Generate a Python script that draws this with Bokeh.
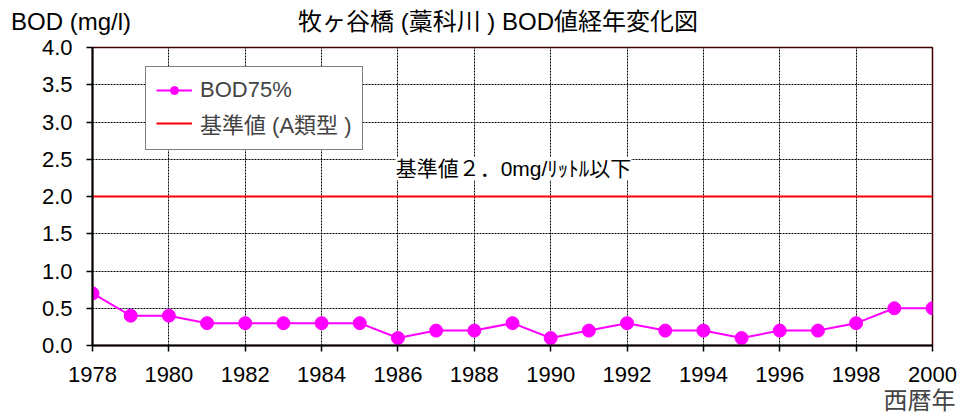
from bokeh.plotting import figure
from bokeh.models import (FixedTicker, NumeralTickFormatter, Label, Legend, LegendItem,
                          Range1d, Title, Div)
from bokeh.layouts import column
from bokeh.embed import file_html
from bokeh.resources import INLINE

years = list(range(1978, 2001))
bod75 = [0.7, 0.4, 0.4, 0.3, 0.3, 0.3, 0.3, 0.3, 0.1, 0.2, 0.2, 0.3,
         0.1, 0.2, 0.3, 0.2, 0.2, 0.1, 0.2, 0.2, 0.3, 0.5, 0.5]
std_years = [1978, 2000]
std_values = [2.0, 2.0]
y_ticks = [0, 0.5, 1.0, 1.5, 2.0, 2.5, 3.0, 3.5, 4.0]
x_ticks = list(range(1978, 2001, 2))

title_text = "牧ヶ谷橋 (藁科川 ) BOD値経年変化図"
ylabel_text = "BOD (mg/l)"
xlabel_text = "西暦年"
note_text = "基準値２．0mg/ﾘｯﾄﾙ以下"
legend_bod = "BOD75%"
legend_std = "基準値 (A類型 )"

FONT = "'Liberation Sans', 'Noto Sans CJK JP', sans-serif"

header = Div(
    text=(f'<div style="position:relative;width:964px;height:35px;'
          f'font-family:{FONT};font-size:24px;line-height:26px;color:black;">'
          f'<span style="position:absolute;left:11px;top:9px;white-space:nowrap;">{ylabel_text}</span>'
          f'<span style="position:absolute;left:298px;top:9px;white-space:nowrap;">{title_text}</span>'
          f'</div>'),
    width=964, height=35, margin=(0, 0, 0, 0))

p = figure(width=964, height=382, output_backend="svg", toolbar_location=None,
           x_range=Range1d(1978, 2000), y_range=Range1d(0, 4),
           min_border_left=92, min_border_right=32, min_border_top=12, min_border_bottom=72,
           margin=(0, 0, 0, 0))
p.background_fill_color = "white"
p.border_fill_color = "white"
p.outline_line_color = "#400000"
p.outline_line_width = 1.5

for ax in (p.xaxis[0], p.yaxis[0]):
    ax.axis_line_color = "black"
    ax.axis_line_width = 2
    ax.major_tick_line_color = "black"
    ax.major_tick_line_width = 1.5
    ax.major_tick_out = 6
    ax.major_tick_in = 0
    ax.minor_tick_line_color = None
    ax.major_label_text_font = FONT
    ax.major_label_text_font_size = "22px"
    ax.major_label_text_color = "black"

p.xaxis.ticker = FixedTicker(ticks=x_ticks)
p.yaxis.ticker = FixedTicker(ticks=y_ticks)
p.yaxis.formatter = NumeralTickFormatter(format="0.0")
p.xaxis.major_label_standoff = 15
p.yaxis.major_label_standoff = 14

p.xgrid.ticker = FixedTicker(ticks=x_ticks)
p.ygrid.ticker = FixedTicker(ticks=y_ticks)
for g in (p.xgrid[0], p.ygrid[0]):
    g.grid_line_color = "black"
    g.grid_line_dash = "2 1"
    g.grid_line_width = 1

r_std = p.line(std_years, std_values, line_color="#ff0000", line_width=2)
r_line = p.line(years, bod75, line_color="#ff00ff", line_width=2)
r_pts = p.scatter(years, bod75, size=13, fill_color="#ff00ff", line_color="#ff00ff")

legend = Legend(items=[LegendItem(label=legend_bod, renderers=[r_line, r_pts]),
                       LegendItem(label=legend_std, renderers=[r_std])],
                location=(53, 195))
legend.border_line_color = "black"
legend.border_line_width = 1.5
legend.label_text_font = FONT
legend.label_text_font_size = "22px"
legend.glyph_width = 36
legend.label_standoff = 8
legend.padding = 10
legend.spacing = 4
legend.margin = 0
legend.background_fill_alpha = 1
p.add_layout(legend, "center")

note = Label(x=1985.94, y=2.376, text=note_text, text_font=FONT, text_font_size="21px",
             text_baseline="middle", background_fill_color="white",
             text_color="black")
p.add_layout(note)

xlab = Title(text=xlabel_text, align="right", text_font=FONT, text_font_size="24px",
             text_font_style="normal", offset=-23, standoff=1)
p.add_layout(xlab, "below")

layout = column(header, p, spacing=0, margin=(0, 0, 0, 0))
open("out.html", "w").write(file_html(layout, INLINE))
